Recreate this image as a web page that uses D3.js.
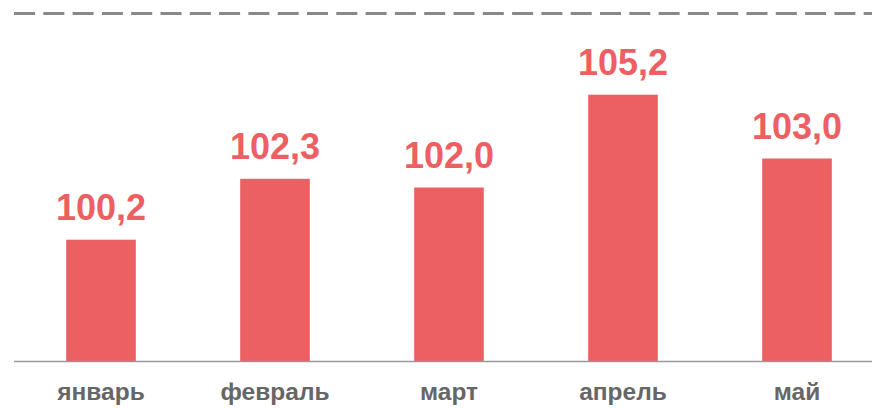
<!DOCTYPE html>
<html>
<head>
<meta charset="utf-8">
<script src="https://cdn.jsdelivr.net/npm/d3@7"></script>
<style>
  body { margin: 0; background: #fff; }
  svg { display: block; font-family: "Liberation Sans", Arial, sans-serif; }
</style>
</head>
<body>
<svg id="chart" width="872" height="408"></svg>
<script>
var months = ["январь", "февраль", "март", "апрель", "май"];
var values = [100.2, 102.3, 102.0, 105.2, 103.0];
var refValue = 108;
var yDomain = [96, 108];

var barColor = "#ec5f62";

var chart = d3.select("#chart");

var x = d3.scaleBand()
    .domain(months)
    .range([14, 884])
    .paddingInner(0.6)
    .paddingOuter(0.3);

var y = d3.scaleLinear()
    .domain(yDomain)
    .range([361.5, 13.5]);

// dashed reference line at the top
chart.append("line")
    .attr("x1", 14)
    .attr("x2", 872)
    .attr("y1", y(refValue))
    .attr("y2", y(refValue))
    .style("stroke", "#888")
    .style("stroke-width", 3)
    .style("stroke-dasharray", "21,8.3");

chart.selectAll(".bar")
    .data(values)
    .enter().append("rect")
    .attr("class", "bar")
    .attr("x", function(d, i) { return x(months[i]); })
    .attr("y", function(d) { return y(d); })
    .attr("width", x.bandwidth())
    .attr("height", function(d) { return y(yDomain[0]) - y(d); })
    .style("fill", barColor);

chart.selectAll(".value")
    .data(values)
    .enter().append("text")
    .attr("class", "value")
    .attr("x", function(d, i) { return x(months[i]) + x.bandwidth() / 2; })
    .attr("y", function(d) { return y(d) - 20; })
    .attr("text-anchor", "middle")
    .style("font-size", "36px")
    .style("font-weight", "bold")
    .style("fill", barColor)
    .text(function(d) { return d.toFixed(1).replace(".", ","); });

// baseline
var xAxis = d3.axisBottom(x).tickSize(0).tickPadding(0);
var axis = chart.append("g")
    .attr("transform", "translate(0," + y(yDomain[0]) + ")")
    .call(xAxis);
axis.select(".domain").remove();
axis.append("line")
    .attr("x1", 14)
    .attr("x2", 872)
    .style("stroke", "#999")
    .style("stroke-width", 1.5);
axis.selectAll(".tick text")
    .attr("y", 38)
    .attr("dy", 0)
    .style("font-family", "Liberation Sans, Arial, sans-serif")
    .style("font-size", "24.5px")
    .style("font-weight", "bold")
    .style("fill", "#666");
</script>
</body>
</html>
